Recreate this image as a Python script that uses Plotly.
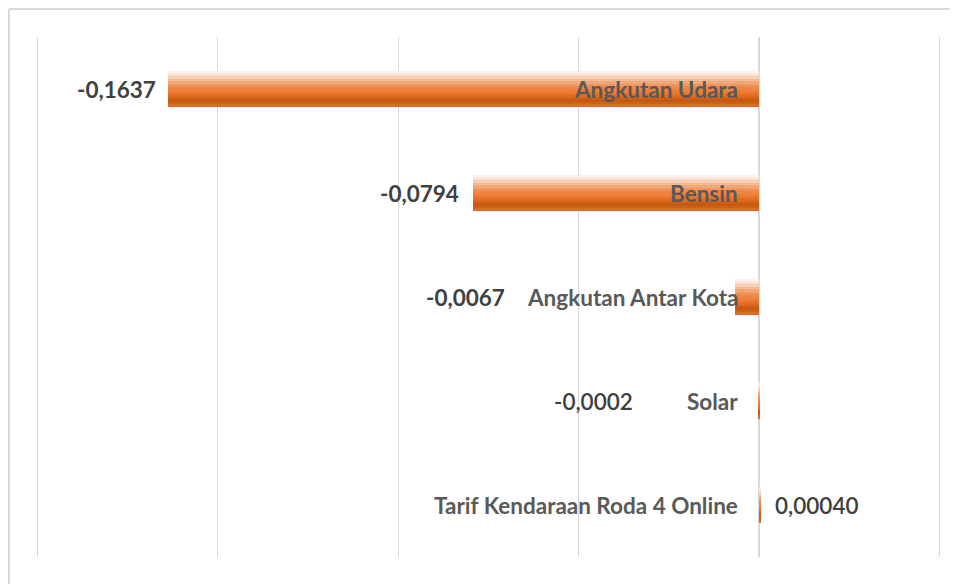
import plotly.graph_objects as go

categories = ["Angkutan Udara", "Bensin", "Angkutan Antar Kota", "Solar", "Tarif Kendaraan Roda 4 Online"]
values = [-0.1637, -0.0794, -0.0067, -0.0002, 0.0004]
value_labels = ["-0,1637", "-0,0794", "-0,0067", "-0,0002", "0,00040"]
label_weight = [700, 700, 700, 600, 600]
label_shift = [-10, -12, -228, -124, 12]

# vertical gradient of the bars, top -> bottom
stripe_colors = ["#fbefe8", "#f8dfcf", "#f5cdb4", "#f3ba96", "#f1a878", "#ef975e",
                 "#ee8a49", "#ed813a", "#ea782f", "#e26d23", "#d46218", "#c65a12",
                 "#cc6118", "#d96d22"]

W = 0.34
n = len(stripe_colors)
sw = W / n

fig = go.Figure()
for i, c in enumerate(stripe_colors):
    fig.add_trace(go.Bar(
        y=categories, x=values, orientation="h",
        width=sw * 1.08, offset=-W / 2 + i * sw,
        marker=dict(color=c, line=dict(width=0)),
        showlegend=False, hoverinfo="skip",
    ))

FONT = "Lato"
FS = 22.5
annotations = []
for cat, v, lab, wgt, sh in zip(categories, values, value_labels, label_weight, label_shift):
    annotations.append(dict(
        x=0, y=cat, xref="x", yref="y", text=cat, showarrow=False,
        xanchor="right", xshift=-19,
        font=dict(family=FONT, size=FS, color="#595959", weight=700),
    ))
    annotations.append(dict(
        x=v, y=cat, xref="x", yref="y", text=lab, showarrow=False,
        xanchor=("right" if v < 0 else "left"), xshift=sh,
        font=dict(family=FONT, size=FS, color="#404040", weight=wgt),
    ))

FW, FH = 972, 610
L, T = 27, 29
PW, PH = 907, 520
bx0 = (1 - L) / PW
by1 = (T + PH - 1) / PH
border = dict(color="#d9d9d9", width=2)
fig.update_layout(
    width=FW, height=FH,
    margin=dict(l=L, r=FW - L - PW, t=T, b=FH - T - PH, pad=0),
    paper_bgcolor="white", plot_bgcolor="white",
    barmode="overlay", bargap=0,
    annotations=annotations,
    shapes=[
        dict(type="line", xref="paper", yref="paper", x0=bx0, x1=1.2, y0=by1, y1=by1,
             line=border, layer="below"),
        dict(type="line", xref="paper", yref="paper", x0=bx0, x1=bx0, y0=-0.3, y1=by1,
             line=border, layer="below"),
    ],
)
fig.update_xaxes(range=[-0.2006, 0.0506], tick0=0, dtick=0.05, showticklabels=False,
                 showgrid=True, gridcolor="#d9d9d9", gridwidth=1,
                 zeroline=True, zerolinecolor="#d9d9d9", zerolinewidth=2, showline=False)
fig.update_yaxes(autorange="reversed", showticklabels=False, showgrid=False, zeroline=False)

fig.write_html("out.html")
